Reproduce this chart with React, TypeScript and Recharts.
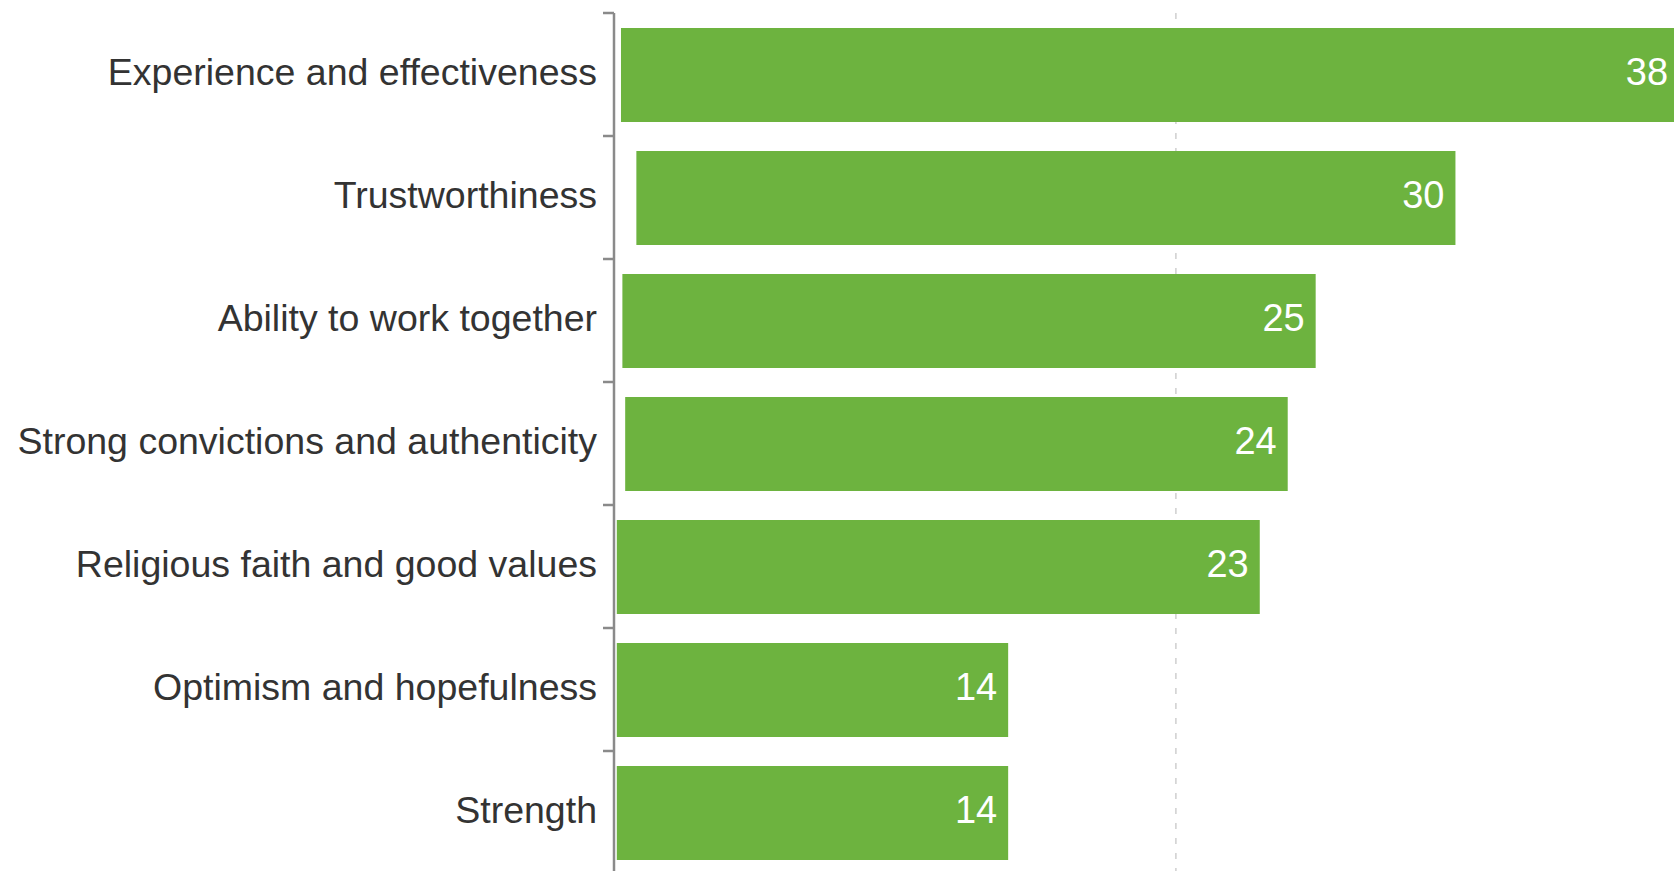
import { BarChart, Bar, XAxis, YAxis, CartesianGrid, LabelList } from 'recharts'

const categories = [
  'Experience and effectiveness',
  'Trustworthiness',
  'Ability to work together',
  'Strong convictions and authenticity',
  'Religious faith and good values',
  'Optimism and hopefulness',
  'Strength'
]

// percent values shown on the bars
const values = [38, 30, 25, 24, 23, 14, 14]

// small empty space before some bars in the original
const gaps = [0.15, 0.7, 0.2, 0.3, 0, 0, 0]

const xTicks = [20, 40]

const data = categories.map((name, i) => ({
  name,
  value: values[i],
  gap: gaps[i],
  bar: values[i] - gaps[i]
}))

const GREEN = '#6db33f'
const AXIS = '#8a8a8a'
const FONT = '"Liberation Sans", Arial, sans-serif'

// category label plus a tick mark on the band's upper boundary
function CategoryTick(props: any) {
  const { x, y, payload } = props
  const half = payload && payload.offset ? payload.offset : 61.5
  return (
    <g>
      <text
        x={x}
        y={y}
        dy={10}
        textAnchor="end"
        fill="#333333"
        fontSize={37.5}
        fontFamily={FONT}
      >
        {payload.value}
      </text>
      <line
        x1={x + 6}
        x2={x + 17}
        y1={y - half}
        y2={y - half}
        stroke={AXIS}
        strokeWidth={2.5}
      />
    </g>
  )
}

export default function App() {
  return (
    <div
      style={{
        position: 'absolute',
        left: 0,
        top: 0,
        width: 1674,
        height: 871,
        overflow: 'hidden',
        background: '#fff'
      }}
    >
      <BarChart
        width={1740}
        height={880}
        data={data}
        layout="vertical"
        margin={{ top: 13, right: 5, bottom: 6, left: 0 }}
        barSize={94}
      >
        <CartesianGrid
          horizontal={false}
          stroke="#cfcfcf"
          strokeWidth={1.5}
          strokeDasharray="6 9"
        />
        <XAxis type="number" hide domain={[-0.1, 40]} ticks={xTicks} />
        <YAxis
          type="category"
          dataKey="name"
          width={614}
          axisLine={{ stroke: AXIS, strokeWidth: 2.5 }}
          tickLine={false}
          tickSize={0}
          tickMargin={17}
          interval={0}
          tick={<CategoryTick />}
        />
        <Bar
          dataKey="gap"
          stackId="a"
          fill="transparent"
          isAnimationActive={false}
        />
        <Bar
          dataKey="bar"
          stackId="a"
          fill={GREEN}
          isAnimationActive={false}
        >
          <LabelList
            dataKey="value"
            position="insideRight"
            offset={11}
            fill="#ffffff"
            dy={-3}
            style={{ fontSize: 38, fontFamily: FONT }}
          />
        </Bar>
      </BarChart>
    </div>
  )
}
